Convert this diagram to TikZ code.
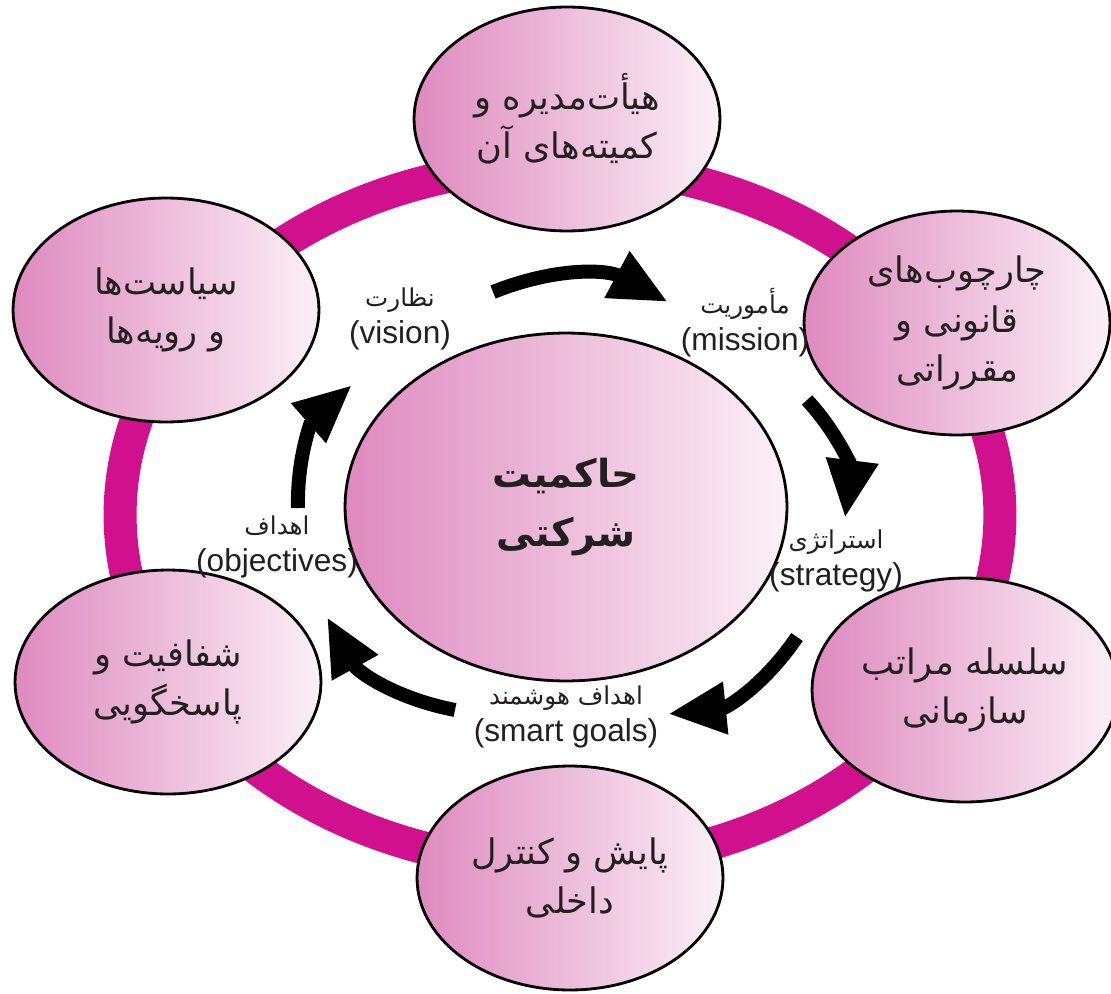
\documentclass[tikz,border=0pt]{standalone}
\usepackage{fontspec}
\setmainfont{Liberation Sans}
\newfontfamily\arabicfont[Script=Arabic]{DejaVu Sans}
\TeXXeTstate=1
\usetikzlibrary{shapes.geometric,arrows.meta}

\definecolor{ringmagenta}{RGB}{208,16,140}
\definecolor{pinkleft}{RGB}{222,138,190}
\definecolor{pinkright}{RGB}{251,240,246}
\definecolor{inkgray}{RGB}{35,31,32}

\newcommand{\rtl}[1]{\beginR#1\endR}
\newcommand{\smallfa}{\arabicfont\fontsize{14}{18}\selectfont}

\tikzset{
  topic/.style={ellipse, draw=black, line width=1.6pt, left color=pinkleft,
    right color=pinkright, minimum width=6.12cm, minimum height=4.48cm,
    inner sep=0pt, align=center, text=inkgray,
    font=\arabicfont\fontsize{20}{28}\selectfont},
  corebox/.style={topic, minimum width=8.84cm, minimum height=6.96cm,
    font=\arabicfont\bfseries\fontsize{22}{34}\selectfont},
  cyclearrow/.style={line width=0.28cm, -{Triangle[length=1.16cm,width=0.98cm]},
    bend left=25},
  steplabel/.style={align=center, text=inkgray, font=\fontsize{18}{21}\selectfont},
}

\begin{document}
\begin{tikzpicture}[x=0.02cm, y=-0.02cm]
  \useasboundingbox (0,0) rectangle (1111,993);

  % Ring behind the topics
  \draw[ringmagenta, line width=0.66cm] (560,515) ellipse [x radius=8.8cm, y radius=7cm];

  % Centre and the six topics
  \node[corebox] (core) at (566,507) {\rtl{حاکمیت}\\\rtl{شرکتی}};
  \node[topic] (board) at (567,119) {\rtl{هیأت‌مدیره و}\\\rtl{کمیته‌های آن}};
  \node[topic] (legal) at (957,323) {\rtl{چارچوب‌های}\\\rtl{قانونی و}\\\rtl{مقرراتی}};
  \node[topic] (hierarchy) at (965,690) {\rtl{سلسله مراتب}\\\rtl{سازمانی}};
  \node[topic] (control) at (570,878) {\rtl{پایش و کنترل}\\\rtl{داخلی}};
  \node[topic] (transparency) at (168,682) {\rtl{شفافیت و}\\\rtl{پاسخگویی}};
  \node[topic] (policies) at (166,310) {\rtl{سیاست‌ها}\\\rtl{و رویه‌ها}};

  % Arrow ends
  \coordinate (visS) at (493,292);  \coordinate (visE) at (668,302);
  \coordinate (misS) at (807,400);  \coordinate (misE) at (845,518);
  \coordinate (strS) at (797,637);  \coordinate (strE) at (668,714);
  \coordinate (smaS) at (455,710);  \coordinate (smaE) at (327,617);
  \coordinate (objS) at (298,508);  \coordinate (objE) at (352,385);

  % Cycle arrows
  \draw[cyclearrow] (visS) to (visE);
  \draw[cyclearrow] (misS) to (misE);
  \draw[cyclearrow] (strS) to (strE);
  \draw[cyclearrow] (smaS) to (smaE);
  \draw[cyclearrow] (objS) to (objE);

  % Step labels
  \node[steplabel] (vision) at (400,319) {{\smallfa\rtl{نظارت}}\\(vision)};
  \node[steplabel] (mission) at (745,323) {{\smallfa\rtl{مأموریت}}\\(mission)};
  \node[steplabel] (strategy) at (836,561) {{\smallfa\rtl{استراتژی}}\\(strategy)};
  \node[steplabel] (smartgoals) at (566,717) {{\smallfa\rtl{اهداف هوشمند}}\\(smart goals)};
  \node[steplabel] (objectives) at (277,547) {{\smallfa\rtl{اهداف}}\\(objectives)};
\end{tikzpicture}
\end{document}
